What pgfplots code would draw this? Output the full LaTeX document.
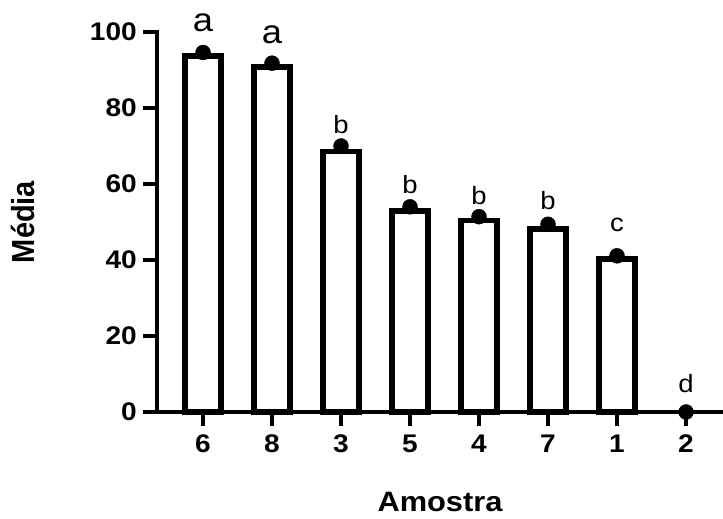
\documentclass[border=0pt]{standalone}
\usepackage{pgfplots}
\pgfplotsset{compat=1.18}
\usepackage{fontspec}
\setmainfont{Liberation Sans}[FakeStretch=1.1]
\newfontfamily\plainsans{Liberation Sans}

\begin{document}
\begin{tikzpicture}
\useasboundingbox (-157pt,-107pt) rectangle (566pt,412pt);
\begin{axis}[
  scale only axis,
  width=566pt, height=380pt,
  xmin=-0.667, xmax=7.536,
  ymin=0, ymax=100,
  clip=false,
  axis x line*=bottom, axis y line*=left,
  axis line style={line width=3.6pt, line cap=rect},
  tick align=outside,
  major tick length=14pt,
  every tick/.style={black, line width=3.6pt},
  xtick={0,...,7},
  xticklabels={6,8,3,5,4,7,1,2},
  ytick={0,20,...,100},
  /pgf/number format/assume math mode=true,
  tick label style={font=\fontsize{25.5}{30}\selectfont\bfseries},
  xticklabel style={text height=18.3pt, text depth=0pt, yshift=-5pt},
  yticklabel style={inner sep=3pt, xshift=-3pt},
  xlabel={Amostra},
  ylabel={\scalebox{1}[1.1]{Média}},
  xlabel style={font=\fontsize{28}{33}\selectfont\bfseries,
    at={(axis description cs:0.5,-0.263)}, anchor=base},
  ylabel style={font=\fontsize{29}{34}\selectfont\plainsans\bfseries,
    at={(axis description cs:-0.2367,0.5)}, anchor=center},
]
% barras (medias)
\addplot[ybar, bar width=36pt, fill=white, draw=black, line width=5.5pt, line join=miter]
  coordinates {(0,93.7)(1,90.8)(2,68.5)(3,52.9)(4,50.4)(5,48.2)(6,40.3)};
% pontos
\addplot[only marks, mark=*, mark size=7.5pt, black]
  coordinates {(0,94.6)(1,91.8)(2,70.0)(3,54.0)(4,51.4)(5,49.4)(6,41.1)(7,0)};
% letras (grupos)
\addplot[only marks, mark=*, mark size=0.1pt, mark options={opacity=0},
  nodes near coords, point meta=explicit symbolic,
  nodes near coords style={anchor=base, inner sep=0pt, black, opacity=1,
    font=\fontsize{33}{38}\selectfont}]
  coordinates {(0,100.0)[a] (1,97.1)[a]};
\addplot[only marks, mark=*, mark size=0.1pt, mark options={opacity=0},
  nodes near coords, point meta=explicit symbolic,
  nodes near coords style={anchor=base, inner sep=0pt, black, opacity=1,
    font=\fontsize{25}{30}\selectfont}]
  coordinates {(2,73.3)[b] (3,57.5)[b] (4,54.5)[b] (5,53.2)[b] (6,47.4)[c] (7,5.0)[d]};
\end{axis}
\end{tikzpicture}
\end{document}
